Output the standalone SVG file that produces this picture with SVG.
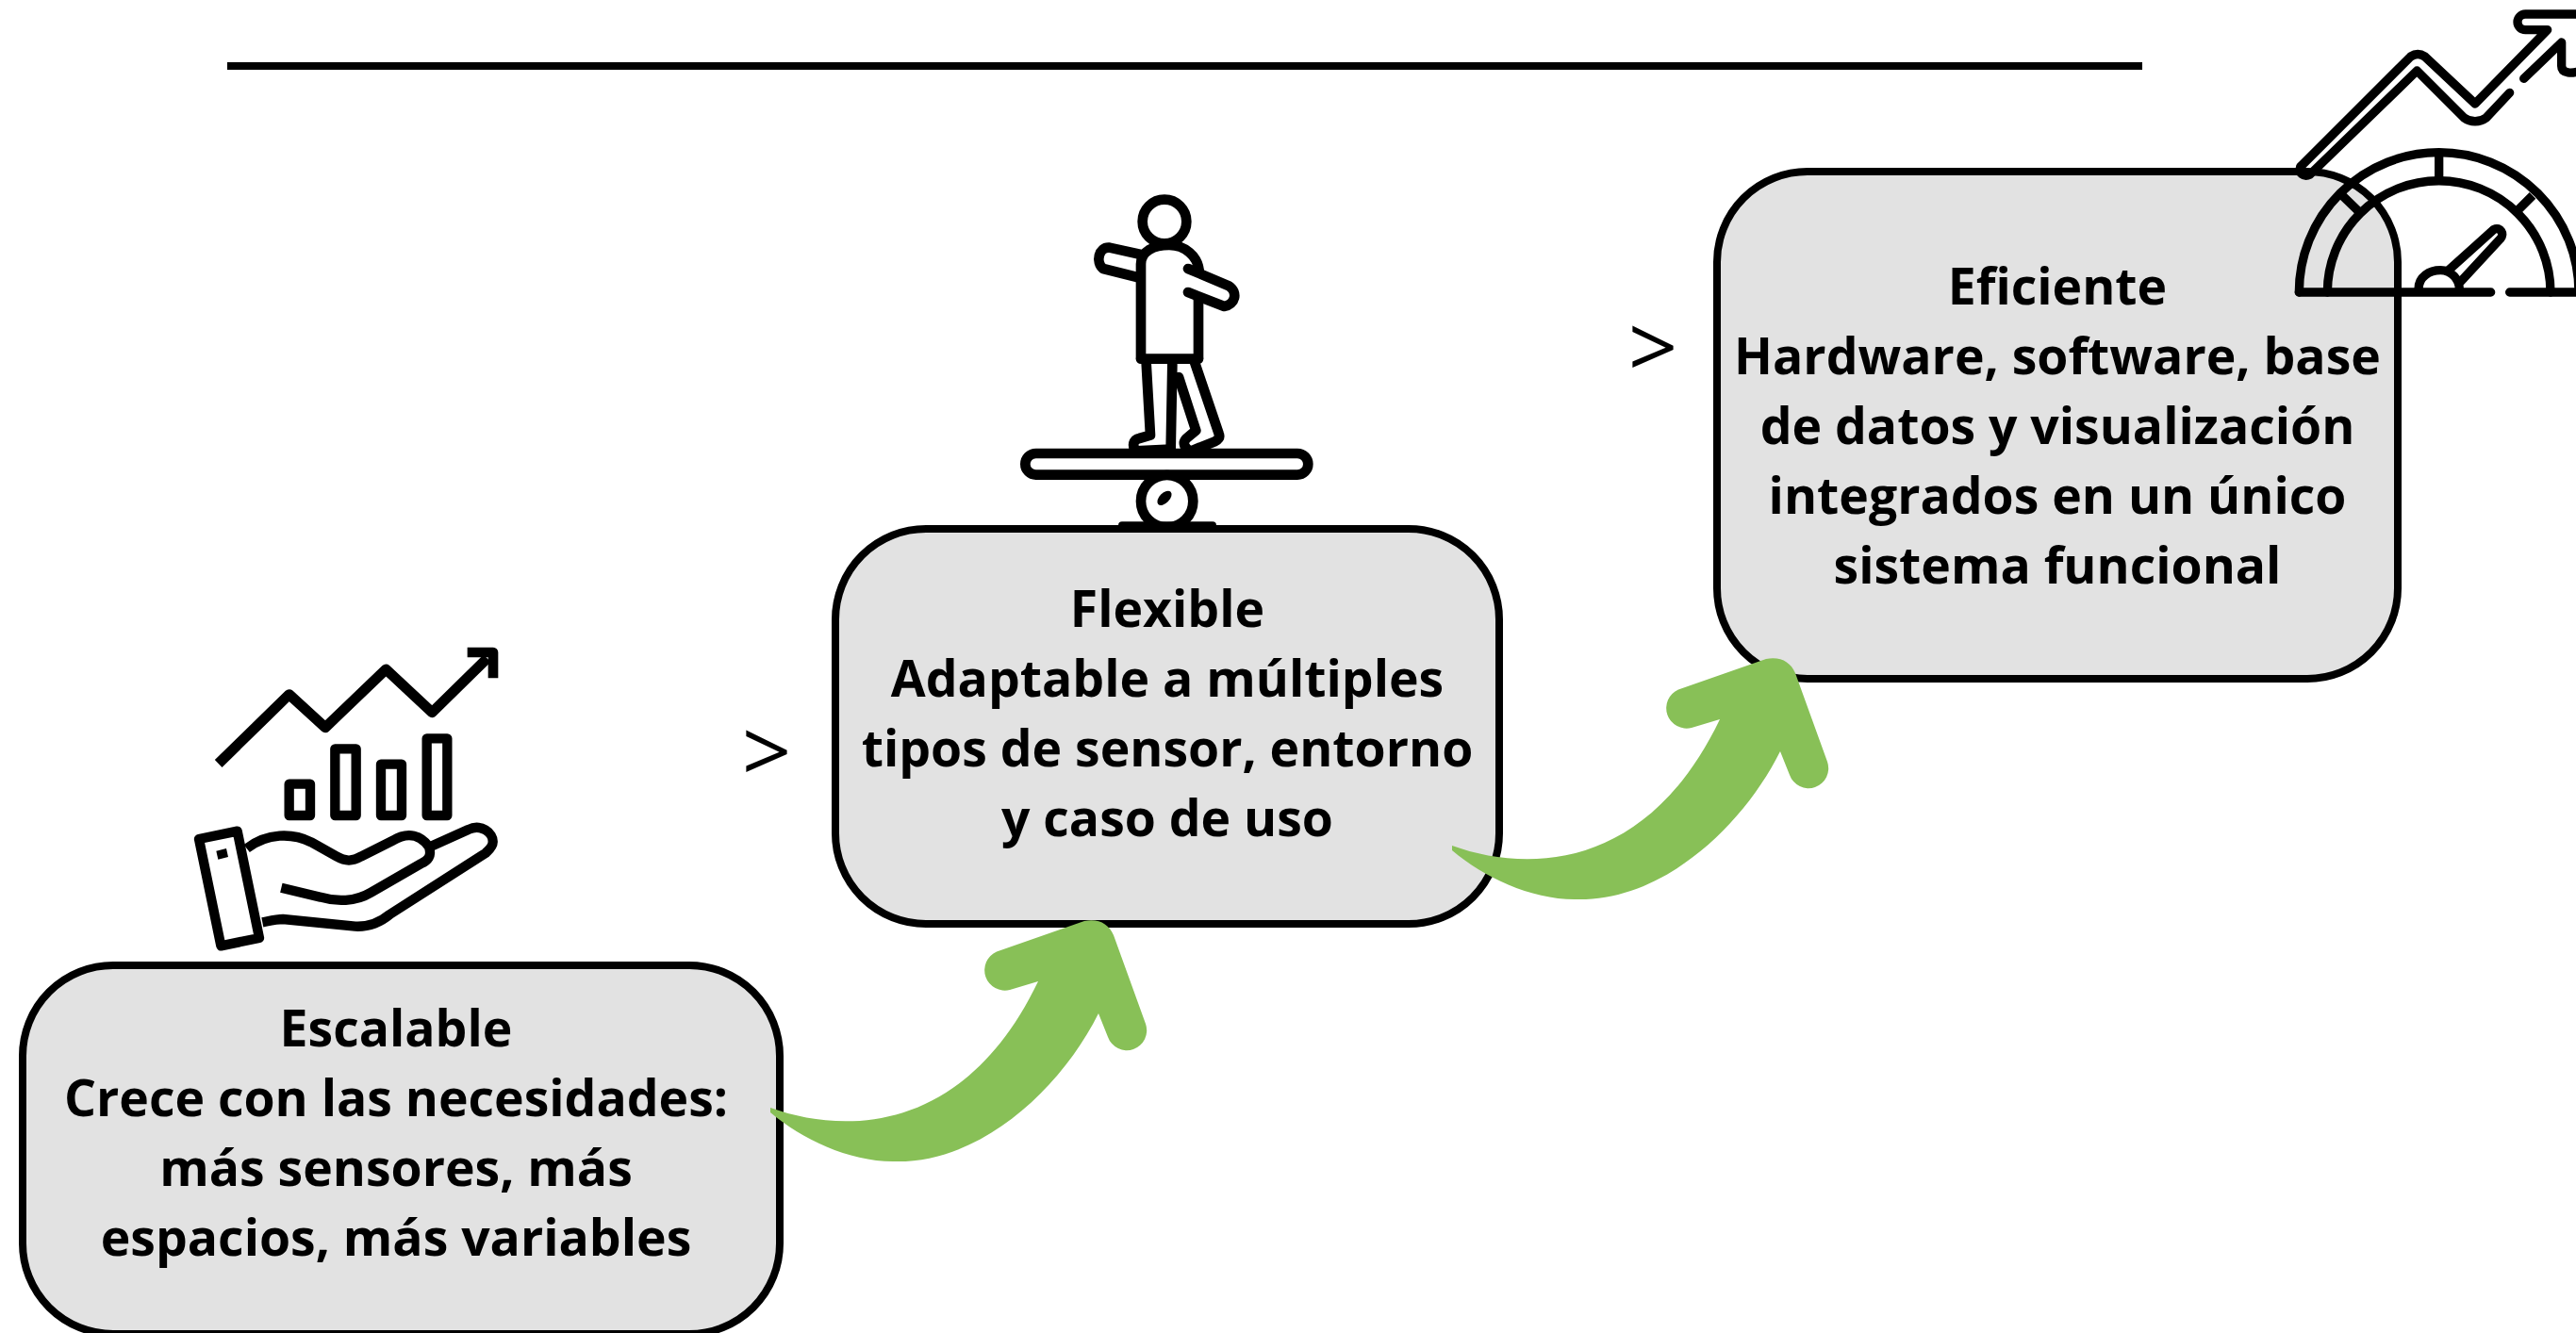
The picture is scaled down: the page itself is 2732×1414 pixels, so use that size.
<svg xmlns="http://www.w3.org/2000/svg" xmlns:xlink="http://www.w3.org/1999/xlink" width="2732" height="1414" viewBox="0 0 2732 1414">
<style>
.box{fill:#e2e2e2;stroke:#000;stroke-width:8}
.t{font-family:"Open Sans","Liberation Sans",sans-serif;font-weight:700;font-size:53.5px;fill:#000;text-anchor:middle}
.gt{font-family:"Open Sans","Liberation Sans",sans-serif;font-weight:400;font-size:92px;fill:#000;text-anchor:middle}
.i{fill:none;stroke:#000;stroke-linejoin:round;stroke-linecap:round}
.ib{fill:none;stroke:#000;stroke-linejoin:round;stroke-linecap:butt}
.arrow{fill:#88c057}
</style>
<defs>
<path id="arr" class="arrow" d="M817,1175 C900,1205 1025,1200 1101,1041 L1071,1050 A21.5,21.5 0 0 1 1057,1009.5 L1150,977 C1165,974 1176,980 1181,992 L1215,1086 A21,21 0 0 1 1175,1100 L1165,1075 C1125,1155 1040,1235 947,1232 C900,1232 850,1208 817,1180 Z"/>
</defs>
<rect id="top-rule" x="241" y="66" width="2031" height="8" fill="#000"/>

<g id="node-escalable">
<g transform="translate(150 660) scale(.33333)">
<path class="ib" stroke-width="33" d="M245,450 L470,230 L585,335 L778,150 L925,287 L1100,115"/>
<path class="ib" stroke-width="32" d="M1037,96 H1119 V178"/>
<g class="i" stroke-width="31">
<rect x="470" y="515" width="67" height="100"/>
<rect x="616" y="403" width="67" height="212"/>
<rect x="762" y="452" width="66" height="163"/>
<rect x="908" y="370" width="65" height="245"/>
<path d="M183,690 L305,665 L375,1005 L253,1030 Z"/>
</g>
<path d="M238,728 L270,720 L276,747 L244,755 Z" fill="#000"/>
<g class="ib" stroke-width="31">
<path d="M335,720 C400,670 480,670 540,700 L620,745 C650,762 670,762 700,745 L800,695 C850,665 890,680 915,715 C925,745 910,760 890,768 L730,860 C680,890 620,890 570,875 L445,845"/>
<path d="M925,712 L1040,660 C1080,640 1120,670 1118,700 C1118,715 1105,725 1095,735 L790,930 C760,955 720,970 680,968 L450,945 C430,945 410,950 385,955"/>
</g>
</g>
<rect class="box" x="24" y="1024" width="803" height="391" rx="96" ry="96"/>
<text class="t" x="420" y="1110">Escalable</text>
<text class="t" x="420" y="1184">Crece con las necesidades:</text>
<text class="t" x="420" y="1258">más sensores, más</text>
<text class="t" x="420" y="1332">espacios, más variables</text>
</g>

<g id="node-flexible">
<g transform="translate(1050 190) scale(.33333)">
<g class="i" stroke-width="32">
<circle cx="555" cy="135" r="70"/>
<path d="M480,570 V270 C480,230 520,210 570,210 C620,210 660,245 665,290"/>
<path d="M663,385 V570"/>
<path d="M480,572 H663"/>
<path d="M480,240 L380,218 C345,215 335,265 360,285 L480,315" stroke-linecap="butt"/>
<path d="M630,285 L760,340 C790,360 780,400 745,405 L630,360"/>
<path d="M497,585 L510,815 L475,825 C455,830 450,850 465,865 L575,860 L580,590"/>
<path d="M600,630 L655,800 L625,825 C610,840 620,860 640,865 L715,835 C728,828 732,820 728,810 L650,580"/>
<rect x="112" y="873" width="900" height="68" rx="34"/>
<circle cx="563" cy="1025" r="83"/>
</g>
<ellipse cx="555" cy="1015" rx="28" ry="16" transform="rotate(-45 555 1015)" fill="#000"/>
<rect x="408" y="1090" width="312" height="30" rx="12" fill="#000"/>
</g>
<rect class="box" x="886" y="561" width="704" height="419" rx="96" ry="96"/>
<text class="t" x="1238" y="665">Flexible</text>
<text class="t" x="1238" y="739">Adaptable a múltiples</text>
<text class="t" x="1238" y="813">tipos de sensor, entorno</text>
<text class="t" x="1238" y="887">y caso de uso</text>
</g>

<g id="node-eficiente">
<rect class="box" x="1821" y="182" width="722" height="538" rx="96" ry="96"/>
<text class="t" x="2182" y="323">Eficiente</text>
<text class="t" x="2182" y="397">Hardware, software, base</text>
<text class="t" x="2182" y="471">de datos y visualización</text>
<text class="t" x="2182" y="545">integrados en un único</text>
<text class="t" x="2182" y="619">sistema funcional</text>
<g transform="translate(2400 0) scale(.33333)">
<g class="i" stroke-width="28">
<path d="M115,930 A445,445 0 0 1 1005,930"/>
<path d="M205,930 A355,355 0 0 1 915,930"/>
<path d="M560,490 V570 M250,620 L312,680 M858,622 L810,670" stroke-linecap="butt"/>
<path d="M115,930 H725 M785,930 H1010"/>
<path d="M495,920 C495,880 530,860 565,860 C600,860 625,890 625,920"/>
<path d="M590,860 L735,730 C755,720 770,745 755,760 L630,895"/>
<path d="M120,530 L470,180 C485,170 500,170 515,180 L675,330 L905,95 H835 A22.5,22.5 0 0 1 835,45 H1010"/>
<path d="M120,530 C110,550 130,565 150,555 L490,225 L640,375 C660,390 690,390 710,375 L785,295"/>
<path d="M830,250 L950,135 V210 C950,235 985,235 1010,225"/>
</g>
</g>
</g>

<text class="gt" x="813" y="830" id="gt1">&gt;</text>
<text class="gt" x="1753" y="401" id="gt2">&gt;</text>

<g id="connectors">
<use xlink:href="#arr"/>
<use xlink:href="#arr" transform="translate(723 -278)"/>
</g>
</svg>
